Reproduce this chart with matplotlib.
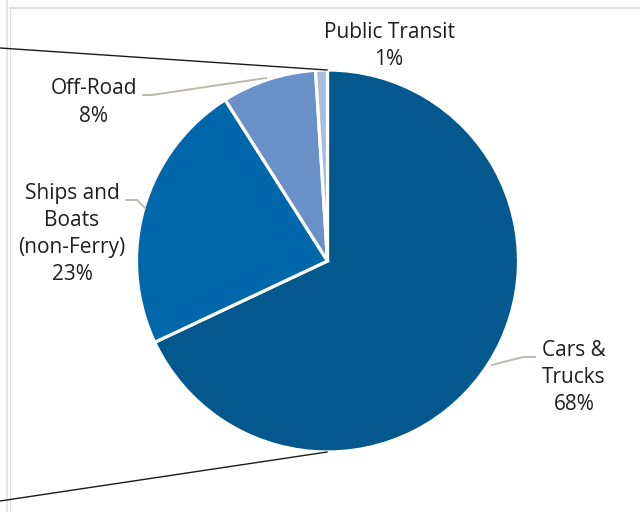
import matplotlib.pyplot as plt

# Share of emissions by transport mode
labels = ['Cars &\nTrucks', 'Ships and\nBoats\n(non-Ferry)', 'Off-Road', 'Public Transit']
values = [68, 23, 8, 1]
pct_labels = ['68%', '23%', '8%', '1%']
colors = ['#03598e', '#0167ab', '#6a90c8', '#a9bddc']

H = 512


def py(y):
    # pixel row (from top) -> data y (from bottom)
    return H - y


fig = plt.figure(figsize=(6.4, 5.12), dpi=100)
ax = fig.add_axes([0, 0, 1, 1])

cx, cy, r = 327.5, 261, 191
ax.pie(values, colors=colors, startangle=90, counterclock=False,
       center=(cx, py(cy)), radius=r,
       wedgeprops=dict(edgecolor='white', linewidth=2.3))

ax.set_xlim(0, 640)
ax.set_ylim(0, H)
ax.set_aspect('equal')
ax.axis('off')

# frame lines
frame = '#e2dfda'
ax.plot([6.5, 6.5], [py(0), py(512)], color=frame, lw=1.2)
ax.plot([9.5, 9.5], [py(8), py(512)], color=frame, lw=0.8)
ax.plot([9.5, 640], [py(7.5), py(7.5)], color=frame, lw=1.6)

# connector lines to pie top / bottom
ax.plot([0, 327], [py(48), py(70)], color='#1a1a1a', lw=1.0)
ax.plot([0, 327], [py(501), py(452)], color='#1a1a1a', lw=1.0)

# leader lines
lead = '#bfb8ad'
ax.plot([143, 152, 266], [py(95), py(95), py(78)], color=lead, lw=1.4)
ax.plot([126, 137, 145], [py(200), py(200), py(208)], color=lead, lw=1.4)
ax.plot([492, 523, 535], [py(365), py(357), py(357)], color=lead, lw=1.4)

txt = dict(ha='center', va='center', fontsize=15, color='#1e1e1e',
           family='Open Sans', linespacing=1.38)
ax.text(389, py(46), labels[3] + '\n' + pct_labels[3], **txt)
ax.text(94, py(102.5), labels[2] + '\n' + pct_labels[2], **txt)
ax.text(72, py(234), labels[1] + '\n' + pct_labels[1], **txt)
ax.text(574, py(377.5), labels[0] + '\n' + pct_labels[0], **txt)

fig.savefig('out.png', dpi=100)
